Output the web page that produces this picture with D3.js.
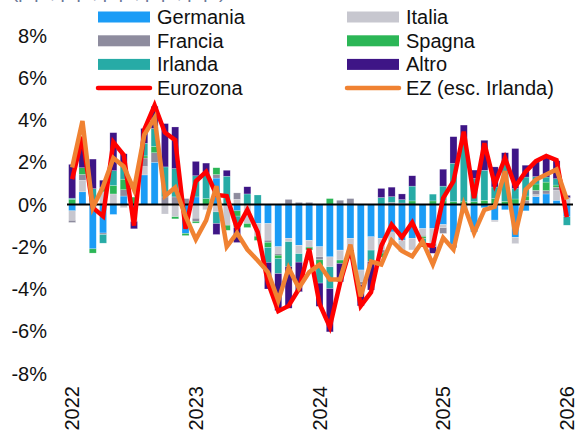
<!DOCTYPE html>
<html>
<head>
<meta charset="utf-8">
<script src="https://cdn.jsdelivr.net/npm/d3@7"></script>
<style>
body { margin: 0; background: #fff; }
svg text { font-family: "Liberation Sans", Arial, sans-serif; }
</style>
</head>
<body>
<div class="container"></div>
<script>
// Months Jan 2022 .. Jan 2026
const months = d3.timeMonth.range(new Date(2022, 0, 1), new Date(2026, 1, 1));

// Contributions by country (p.p.)
const germania = [-0.3, 0.6, -2.1, -1.35, -0.47, 0.4, -0.3, 1.4, 2.0, 0, 0, -1.37,
  0.36, 0, 1.25, 0, -0.3, 0, -0.9, -0.9, -2.0, -1.6, -1.93, -1.7,
  -2.0, -2.48, -2.16, -1.6, -3.1, -1.53, -1.6, -1.3, -1.69, -1.6, -1.14, -1.14,
  -0.95, -1.9, -0.3, -1.3, -0.15, -0.74, -0.25, -1.55, -0.3, 0.37, 0.5, 0.2,
  -0.58];
const italia = [-0.45, 0.55, 0, 0.6, 0.5, -0.15, -0.5, 0.4, 0, -0.45, -0.58, 0,
  -0.65, -0.25, -0.35, -0.98, 0.25, -0.9, -0.6, -0.79, -0.32, -0.16, -0.4, -0.32,
  -0.47, -0.47, -0.47, -0.55, -0.55, -0.63, -0.55, -0.47, -0.55, -0.55, -0.32, -0.7,
  -0.15, 0, 0, 0, 0, -0.08, 0, -0.3, 0, 0.1, 0, 0.47,
  0.32];
const francia = [-0.1, 0.27, 0, -0.07, 0, 0.3, 0, 0.4, 0.45, 0.36, 0.36, 0.28,
  -0.15, 0, 0.17, 0, 0.3, 0, 0, -0.1, -0.08, 0.24, 0.1, 0.1,
  -0.15, 0, 0.2, 0.28, -0.15, 0, -0.15, 0.1, 0.07, 0, -0.05, -0.15,
  -0.27, -0.15, 0, 0, 0, 0, 0, 0, 0.2, 0.2, 0.16, 0.15,
  0];
const spagna = [0.25, 0.32, -0.2, 0.2, 0.4, 0.5, 0.35, 0.1, 0.3, 0, -0.1, -0.1,
  -0.08, 0.28, 0.32, -0.24, -0.25, -0.19, -0.2, -0.24, -0.16, 0, 0, -0.13,
  -0.3, 0.28, -0.16, 0, 0, 0, -0.2, 0, 0, 0.17, -0.11, 0.17,
  0.17, 0.13, 0.13, 0.13, 0.2, 0.28, 0.15, 0.26, 0.2, 0.3, 0.4, 0.1,
  0];
const irlanda = [0.05, 0, 0.75, -0.41, 0.7, 0.7, 0, 0.6, 0.85, 1.42, 1.34, 0,
  1.0, 1.18, -0.55, 1.34, -0.55, 0.5, 0.45, -0.71, -0.71, -1.18, -0.4, 0,
  -0.8, -1.03, 0, 0, 0, -0.55, 0.33, 0.27, 0.16, 0.7, -0.3, 0.32,
  0.7, 1.82, 2.84, 1.1, 1.42, 0.55, 1.8, 0.5, 0.9, 0.35, 0.24, 0.3,
  -0.4];
const altro = [1.6, 0.9, 1.4, 0.35, 1.8, 0.5, -0.35, 0.7, 1.05, 2.05, 1.97, 0,
  0.68, 0.5, -0.52, 0.28, -0.7, 0.34, 0, -1.26, -1.75, -1.97, -1.4, 0,
  -1.1, -2.05, -0.87, -0.4, -1.0, -1.34, 0.43, 0.45, 0.27, 0.49, 0, -0.32,
  0.8, 1.26, 0.79, 0.4, 1.42, 0.95, 0.5, 1.89, 0.56, 0.7, 0.95, 0.85,
  0.11];

// Lines
const eurozona = [1.2, 3.2, -0.15, -0.55, 2.95, 2.35, -1.0, 3.55, 4.7, 3.4, 3.05, -1.15,
  1.1, 1.55, 0.45, 0.4, -1.15, -0.25, -1.3, -3.7, -5.05, -4.8, -4.0, -2.1,
  -4.7, -5.8, -3.7, -2.05, -4.8, -4.15, -1.95, -0.95, -1.55, -0.85, -1.9, -1.95,
  0.3, 1.1, 3.45, 0.3, 2.9, 0.95, 2.2, 0.85, 1.55, 2.05, 2.3, 2.1,
  -0.6];
const ezEscIrlanda = [1.75, 3.95, -0.15, 0.85, 2.2, 1.8, 0.7, 3.3, 4.1, 0.4, 0.8, -0.55,
  -1.65, -0.75, 0.87, -2.0, -1.35, -2.13, -2.65, -3.2, -4.55, -3.0, -3.95, -3.2,
  -2.85, -3.55, -3.55, -1.9, -4.35, -2.7, -2.84, -1.7, -2.2, -2.45, -1.74, -2.84,
  -1.58, -2.13, 0.0, -1.35, -0.25, -0.1, 1.58, -1.42, 0.7, 1.18, 1.42, 1.66,
  0.24];

const yTicks = [-8, -6, -4, -2, 0, 2, 4, 6, 8];
const yearTicks = [2022, 2023, 2024, 2025, 2026];

const keys = ["Germania", "Italia", "Francia", "Spagna", "Irlanda", "Altro"];
const colors = {
  Germania: "#1b9cf6",
  Italia: "#c7c7cf",
  Francia: "#8e8c9e",
  Spagna: "#2bb656",
  Irlanda: "#27aba6",
  Altro: "#3e1586"
};
const seriesData = { Germania: germania, Italia: italia, Francia: francia, Spagna: spagna, Irlanda: irlanda, Altro: altro };

const rows = months.map((m, i) => {
  const r = { month: +m };
  keys.forEach(k => r[k] = seriesData[k][i]);
  return r;
});

// Dimensions
const w = 584;
const h = 443;

const xScale = d3.scaleBand()
  .domain(months.map(d => +d))
  .range([67, 572])
  .paddingInner(0.32)
  .paddingOuter(0.16);

const yScale = d3.scaleLinear()
  .domain([-8, 8])
  .range([373.5, 35.5]);

const cx = d => xScale(+d) + xScale.bandwidth() / 2;

const svg = d3.select(".container")
  .append("svg")
  .attr("width", w)
  .attr("height", h);

// Cut-off subtitle at the top
svg.append("text")
  .attr("x", 12)
  .attr("y", -2)
  .style("font-size", "19px")
  .style("fill", "#6a7898")
  .text("(p.p., p.p., p.p., p.p., p.p.)");

// Stacked bars
const stacked = d3.stack().keys(keys).offset(d3.stackOffsetDiverging)(rows);

svg.append("g")
  .selectAll("g")
  .data(stacked)
  .join("g")
  .attr("fill", d => colors[d.key])
  .selectAll("rect")
  .data(d => d)
  .join("rect")
  .attr("x", d => xScale(d.data.month))
  .attr("y", d => yScale(Math.max(d[0], d[1])))
  .attr("width", xScale.bandwidth())
  .attr("height", d => Math.abs(yScale(d[0]) - yScale(d[1])))
  .attr("stroke", "rgba(255,255,255,0.45)")
  .attr("stroke-width", 0.5);

// Zero line
svg.append("line")
  .attr("x1", 67)
  .attr("x2", 573)
  .attr("y1", yScale(0))
  .attr("y2", yScale(0))
  .attr("stroke", "#000")
  .attr("stroke-width", 2);

// Lines
const line = values => d3.line()
  .x((d, i) => cx(months[i]))
  .y(d => yScale(d))(values);

svg.append("path")
  .attr("d", line(eurozona))
  .attr("fill", "none")
  .attr("stroke", "#ff0000")
  .attr("stroke-width", 4.5);

svg.append("path")
  .attr("d", line(ezEscIrlanda))
  .attr("fill", "none")
  .attr("stroke", "#f08232")
  .attr("stroke-width", 4.5);

// Y labels
svg.append("g")
  .selectAll("text")
  .data(yTicks)
  .join("text")
  .attr("x", 47)
  .attr("y", d => yScale(d))
  .attr("dy", "0.35em")
  .style("text-anchor", "end")
  .style("font-size", "20px")
  .style("fill", "#111")
  .text(d => d + "%");

// X labels (rotated years)
svg.append("g")
  .selectAll("text")
  .data(yearTicks)
  .join("text")
  .attr("transform", d => `translate(${cx(new Date(d, 0, 1))},386) rotate(-90)`)
  .attr("dy", "0.35em")
  .style("text-anchor", "end")
  .style("font-size", "20px")
  .style("fill", "#111")
  .text(d => d);

// Legend
const legendItems = [
  { name: "Germania", col: 0, row: 0, type: "rect", color: colors.Germania },
  { name: "Italia", col: 1, row: 0, type: "rect", color: colors.Italia },
  { name: "Francia", col: 0, row: 1, type: "rect", color: colors.Francia },
  { name: "Spagna", col: 1, row: 1, type: "rect", color: colors.Spagna },
  { name: "Irlanda", col: 0, row: 2, type: "rect", color: colors.Irlanda },
  { name: "Altro", col: 1, row: 2, type: "rect", color: colors.Altro },
  { name: "Eurozona", col: 0, row: 3, type: "line", color: "#ff0000" },
  { name: "EZ (esc. Irlanda)", col: 1, row: 3, type: "line", color: "#f08232" }
];
const colX = [98, 347];
const rowY = [17, 40.8, 64.4, 88];

const legend = svg.append("g");
legendItems.forEach(it => {
  const x0 = colX[it.col];
  const y0 = rowY[it.row];
  if (it.type === "rect") {
    legend.append("rect")
      .attr("x", x0).attr("y", y0 - 5.5)
      .attr("width", 52).attr("height", 11)
      .attr("fill", it.color);
  } else {
    legend.append("line")
      .attr("x1", x0).attr("x2", x0 + 52)
      .attr("y1", y0).attr("y2", y0)
      .attr("stroke", it.color)
      .attr("stroke-width", 4.5)
      .attr("stroke-linecap", "round");
  }
  legend.append("text")
    .attr("x", x0 + 59)
    .attr("y", y0)
    .attr("dy", "0.35em")
    .style("font-size", "20px")
    .style("fill", "#111")
    .text(it.name);
});
</script>
</body>
</html>
